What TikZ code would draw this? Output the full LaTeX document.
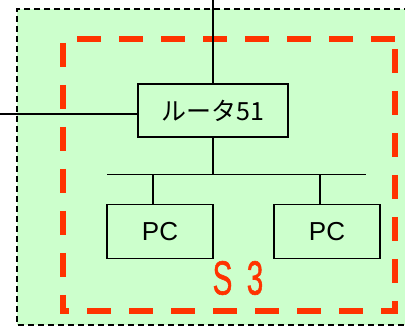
\documentclass[tikz,border=0pt]{standalone}
\usepackage{fontspec}
\setmainfont{Liberation Sans}
\newfontfamily\jpfont{Noto Sans CJK JP}
\newfontfamily\zonefont[FakeBold=1.2]{Liberation Sans}
\definecolor{bggreen}{HTML}{CCFFCC}
\definecolor{zonered}{HTML}{FF3300}
\tikzset{
  box/.style={draw=black, line width=1.6pt, fill=bggreen, inner sep=0pt},
  wire/.style={draw=black, line width=1.7pt},
  thinwire/.style={draw=black, line width=1.2pt},
  zone/.style={draw=zonered, line width=6pt, dash pattern=on 24pt off 18pt},
  zonelabel/.style={text=zonered, xscale=0.62, inner sep=0pt, font=\zonefont\fontsize{48pt}{50pt}\selectfont},
}
\begin{document}
\begin{tikzpicture}[x=1pt,y=-1pt]
\useasboundingbox (0,0) rectangle (405,326);
% outer area
\fill[bggreen] (17,9) rectangle (410,325);
\draw[black, line width=1.3pt, dash pattern=on 6pt off 4pt] (410,9) -- (17,9) -- (17,325) -- (410,325);
% red zone, drawn edge by edge
\draw[zone, dash phase=25pt] (60,39) -- (398,39);
\draw[zone, dash phase=29pt] (395,36) -- (395,314);
\draw[zone, dash phase=15pt] (60,311) -- (398,311);
\draw[zone, dash phase=35pt] (63,36) -- (63,314);
% router
\node[box, minimum width=150pt, minimum height=53pt] (r) at (213,110.5) {\jpfont\fontsize{25pt}{27pt}\selectfont ルータ51};
\coordinate (top) at (213,0);
\coordinate (left) at (0,114);
\draw[wire] (top) -- (r.north);
\draw[wire] (left) -- (r.west |- left);
% bus
\coordinate (busL) at (107,174.5);
\coordinate (busR) at (366,174.5);
\coordinate (busM) at (213,174.5);
\draw[wire] (busL) -- (busR);
\draw[wire] (r.south) -- (busM);
% PCs
\node[box, minimum width=106pt, minimum height=54pt] (pc1) at (160,231.5) {\fontsize{26pt}{28pt}\selectfont PC};
\node[box, minimum width=106pt, minimum height=54pt] (pc2) at (327,231.5) {\fontsize{26pt}{28pt}\selectfont PC};
\coordinate (d1) at (153,174.5);
\coordinate (d2) at (320,174.5);
\draw[thinwire] (d1) -- (d1 |- pc1.north);
\draw[thinwire] (d2) -- (d2 |- pc2.north);
% label
\node[zonelabel] (s) at (222.5,278) {S};
\node[zonelabel] (three) at (255,278) {3};
\end{tikzpicture}
\end{document}
